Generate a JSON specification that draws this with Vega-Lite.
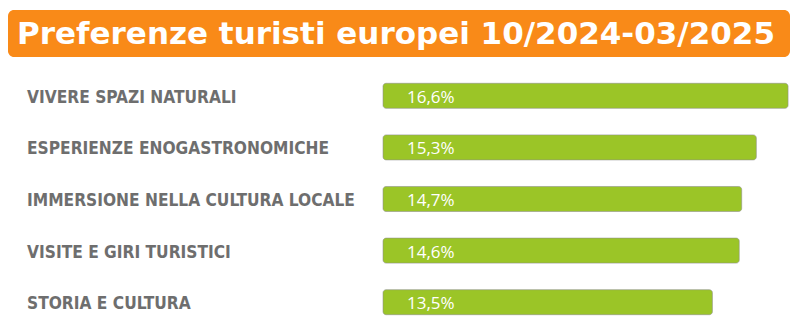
{
  "$schema": "https://vega.github.io/schema/vega-lite/v6.json",
  "padding": {"left": 8, "top": 10, "right": 10, "bottom": 4},
  "spacing": 13,
  "background": "white",
  "config": {"view": {"stroke": null}},
  "vconcat": [
    {
      "width": 782,
      "height": 47,
      "data": {"values": [{"titolo": "Preferenze turisti europei 10/2024-03/2025"}]},
      "layer": [
        {"mark": {"type": "bar", "color": "#f98a18", "cornerRadius": 6}, "encoding": {}},
        {
          "mark": {"type": "text", "color": "white", "font": "DejaVu Sans", "fontWeight": "bold", "fontSize": 31, "align": "center", "baseline": "middle", "dx": -3, "dy": 1},
          "encoding": {"text": {"field": "titolo"}}
        }
      ]
    },
    {
      "width": 782,
      "height": 258,
      "data": {"values": [
        {"categoria": "VIVERE SPAZI NATURALI", "valore": 16.6, "etichetta": "16,6%"},
        {"categoria": "ESPERIENZE ENOGASTRONOMICHE", "valore": 15.3, "etichetta": "15,3%"},
        {"categoria": "IMMERSIONE NELLA CULTURA LOCALE", "valore": 14.7, "etichetta": "14,7%"},
        {"categoria": "VISITE E GIRI TURISTICI", "valore": 14.6, "etichetta": "14,6%"},
        {"categoria": "STORIA E CULTURA", "valore": 13.5, "etichetta": "13,5%"}
      ]},
      "encoding": {
        "y": {"field": "categoria", "type": "nominal", "sort": null, "axis": null, "scale": {"paddingInner": 0.515, "paddingOuter": 0.2575}}
      },
      "layer": [
        {
          "mark": {"type": "bar", "color": "#9bc527", "cornerRadius": 3, "stroke": "#8c8c8c", "strokeWidth": 0.8, "strokeOpacity": 0.7},
          "encoding": {
            "x": {"field": "valore", "type": "quantitative", "axis": null, "scale": {"domain": [-15.37, 16.68], "zero": false, "nice": false}},
            "x2": {"datum": 0}
          }
        },
        {
          "mark": {"type": "text", "color": "white", "font": "Open Sans", "fontSize": 17, "align": "left", "baseline": "middle", "dx": 24, "dy": 2},
          "encoding": {
            "x": {"datum": 0, "type": "quantitative"},
            "text": {"field": "etichetta"}
          }
        },
        {
          "mark": {"type": "text", "color": "#6e6e6e", "font": "DejaVu Sans Condensed", "fontWeight": "bold", "fontSize": 17.2, "align": "left", "baseline": "middle", "dy": 2},
          "encoding": {
            "x": {"datum": -14.59, "type": "quantitative"},
            "text": {"field": "categoria"}
          }
        }
      ]
    }
  ]
}
